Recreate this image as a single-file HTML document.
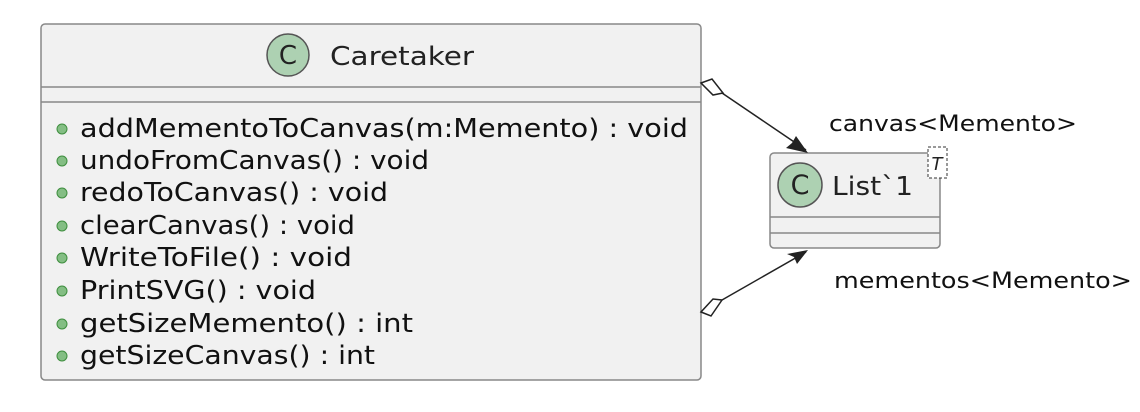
<!DOCTYPE html>
<html><head><style>html,body{margin:0;padding:0;background:#fff;width:1140px;height:412px;overflow:hidden}</style></head>
<body>
<svg width="1140" height="412" xmlns="http://www.w3.org/2000/svg" font-family="DejaVu Sans, Liberation Sans, sans-serif">
<rect x="41" y="24" width="660" height="356" rx="4" fill="#f1f1f1" stroke="#888" stroke-width="1.5"/>
<line x1="41" y1="87" x2="701" y2="87" stroke="#888" stroke-width="1.5"/>
<line x1="41" y1="102" x2="701" y2="102" stroke="#888" stroke-width="1.5"/>
<circle cx="288" cy="55" r="21" fill="#add1b2" stroke="#555" stroke-width="1.5"/>
<text x="288" y="64" font-size="26" text-anchor="middle" fill="#222">C</text>
<text x="330" y="65" font-size="26" fill="#222" textLength="144" lengthAdjust="spacingAndGlyphs">Caretaker</text>
<g fill="#84be84" stroke="#3f8f3f" stroke-width="1">
<circle cx="62" cy="129" r="5"/><circle cx="62" cy="161" r="5"/><circle cx="62" cy="193" r="5"/><circle cx="62" cy="226" r="5"/>
<circle cx="62" cy="258" r="5"/><circle cx="62" cy="291" r="5"/><circle cx="62" cy="324" r="5"/><circle cx="62" cy="356" r="5"/>
</g>
<g font-size="26" fill="#111">
<text x="80" y="137" textLength="608" lengthAdjust="spacingAndGlyphs">addMementoToCanvas(m:Memento) : void</text>
<text x="80" y="169" textLength="349" lengthAdjust="spacingAndGlyphs">undoFromCanvas() : void</text>
<text x="80" y="201" textLength="308" lengthAdjust="spacingAndGlyphs">redoToCanvas() : void</text>
<text x="80" y="234" textLength="275" lengthAdjust="spacingAndGlyphs">clearCanvas() : void</text>
<text x="80" y="266" textLength="272" lengthAdjust="spacingAndGlyphs">WriteToFile() : void</text>
<text x="80" y="299" textLength="236" lengthAdjust="spacingAndGlyphs">PrintSVG() : void</text>
<text x="80" y="332" textLength="333" lengthAdjust="spacingAndGlyphs">getSizeMemento() : int</text>
<text x="80" y="364" textLength="295" lengthAdjust="spacingAndGlyphs">getSizeCanvas() : int</text>
</g>
<rect x="770" y="153" width="170" height="95" rx="4" fill="#f1f1f1" stroke="#888" stroke-width="1.5"/>
<line x1="770" y1="217" x2="940" y2="217" stroke="#888" stroke-width="1.5"/>
<line x1="770" y1="233" x2="940" y2="233" stroke="#888" stroke-width="1.5"/>
<circle cx="800" cy="185" r="22" fill="#add1b2" stroke="#555" stroke-width="1.5"/>
<text x="800" y="194" font-size="27" text-anchor="middle" fill="#222">C</text>
<text x="832" y="195" font-size="26" fill="#222" textLength="81" lengthAdjust="spacingAndGlyphs">List`1</text>
<rect x="928" y="147" width="19" height="31" fill="#fff" stroke="#333" stroke-width="1" stroke-dasharray="3,2"/>
<text x="937" y="170" font-size="18" font-style="italic" text-anchor="middle" fill="#222">T</text>
<g stroke="#222" stroke-width="1.5" fill="none">
<line x1="722" y1="93" x2="806" y2="150"/>
<line x1="722" y1="300" x2="806" y2="252"/>
</g>
<polygon points="701,83 712,79 723,93 713,95" fill="#fff" stroke="#222" stroke-width="1.5"/>
<polygon points="701,312 711,316 722,300 713,299" fill="#fff" stroke="#222" stroke-width="1.5"/>
<polygon points="808,153 786,148 792,143 796,136" fill="#222"/>
<polygon points="808,250 797,264 794,257 787,254" fill="#222"/>
<text x="829" y="131" font-size="22" fill="#111" textLength="248" lengthAdjust="spacingAndGlyphs">canvas&lt;Memento&gt;</text>
<text x="834" y="288" font-size="22" fill="#111" textLength="298" lengthAdjust="spacingAndGlyphs">mementos&lt;Memento&gt;</text>
</svg>
</body></html>
